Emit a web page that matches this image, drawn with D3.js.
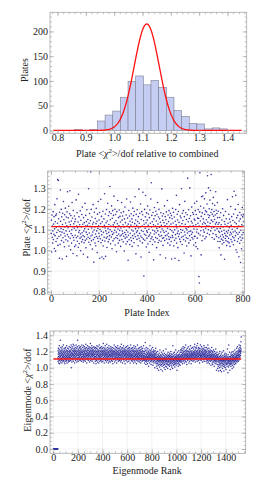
<!DOCTYPE html>
<html><head><meta charset="utf-8">
<script src="https://cdn.jsdelivr.net/npm/d3@7"></script>
<style>
body{margin:0;background:#fff}
svg{display:block}
text{font-family:"Liberation Serif","DejaVu Serif",serif;font-size:10px;fill:#222}
</style>
</head><body><svg id="c" width="266" height="490"></svg>
<script>
// ---------------- DATA ----------------
const histXTicks = [0.8,0.9,1.0,1.1,1.2,1.3,1.4];
const histYTicks = [0,50,100,150,200];
const histBinEdges = [0.86,0.887,0.914,0.941,0.968,0.995,1.022,1.049,1.076,1.103,1.130,1.157,1.184,1.211,1.238,1.265,1.292,1.319,1.346,1.373,1.400];
const histCounts   = [2,0,2,19,31,39,67,99,110,92,101,87,67,40,28,14,13,3,5,3];
const gaussMean = 1.115, gaussSigma = 0.044, gaussPeak = 215;
const gaussRange = [0.785, 1.45];

const plateXTicks = [0,200,400,600,800];
const plateYTicks = [0.8,0.9,1.0,1.1,1.2,1.3];
const plateMean = 1.115;
const plateChi2 = [
1.082,1.146,0.992,1.171,1.063,1.118,1.035,1.094,1.187,1.052,1.127,1.078,1.163,1.009,1.104,1.221,1.071,1.138,0.996,1.169,
1.043,1.112,1.176,1.086,1.249,1.057,1.131,1.342,1.024,1.098,1.338,1.153,1.067,1.116,0.962,1.184,1.091,1.029,1.292,1.141,
1.074,1.106,1.198,1.047,1.162,1.088,0.958,1.125,1.179,1.061,1.101,1.236,1.039,1.148,1.083,1.017,1.172,1.113,1.069,1.204,
1.132,1.051,1.094,1.161,0.971,1.119,1.186,1.076,1.283,1.045,1.109,1.157,1.066,1.213,1.021,1.137,1.092,1.177,1.288,1.058,
1.124,1.003,1.168,1.081,1.142,1.035,1.099,1.231,1.072,1.155,1.114,0.985,1.193,1.062,1.128,1.049,1.107,1.166,1.018,1.139,
1.073,1.151,1.026,1.097,1.244,1.061,1.118,0.974,1.182,1.044,1.109,1.068,1.137,1.015,1.271,1.087,1.162,1.033,1.096,1.124,
1.058,1.191,1.079,0.998,1.145,1.064,1.113,1.041,1.173,1.085,1.209,1.052,1.126,1.071,0.981,1.158,1.093,1.037,1.134,1.066,
1.104,1.227,1.048,1.117,1.169,1.012,1.088,1.139,1.055,1.196,1.076,1.121,0.967,1.149,1.063,1.102,1.298,1.039,1.131,1.084,
1.178,1.057,1.116,1.027,1.143,1.379,1.069,1.198,1.046,1.108,1.161,1.074,1.006,1.127,1.089,1.221,1.052,1.136,0.943,1.098,
1.184,1.062,1.113,1.035,1.154,1.079,1.022,1.129,1.203,1.067,1.094,1.141,0.989,1.175,1.058,1.106,1.236,1.043,1.119,1.083,
1.147,1.068,1.183,0.962,1.101,1.056,1.129,1.247,1.037,1.092,1.164,1.075,0.968,1.138,1.049,1.113,1.189,1.021,1.087,0.959,
1.152,1.063,1.121,1.274,1.045,1.108,1.176,0.971,1.094,1.133,1.059,1.197,1.081,1.014,1.142,1.066,1.228,1.105,1.041,1.168,
1.087,1.125,1.053,1.186,1.071,1.309,1.099,1.148,1.032,1.117,1.178,1.064,1.215,1.091,1.008,1.155,1.077,1.192,1.046,1.123,
1.169,1.084,1.262,1.056,1.134,1.097,1.199,1.026,1.111,1.173,1.062,1.143,1.088,0.993,1.187,1.072,1.128,1.057,1.241,1.103,
1.035,1.158,1.079,1.119,1.195,1.048,1.096,1.164,1.069,1.137,1.019,1.108,1.182,1.074,1.231,1.052,1.146,1.093,1.166,1.081,
1.124,1.041,1.187,1.068,1.113,0.997,1.152,1.086,1.209,1.059,1.134,1.076,1.031,1.171,1.097,1.248,1.064,1.118,1.042,1.156,
1.089,0.952,1.127,1.073,1.193,1.051,1.109,1.166,1.028,1.141,1.083,1.234,1.061,1.122,1.177,1.046,1.098,1.152,1.019,1.136,
1.071,1.204,1.093,1.057,1.168,1.115,1.037,1.188,1.079,1.129,1.259,1.066,1.105,1.147,0.983,1.174,1.087,1.121,1.053,1.196,
1.094,1.139,1.071,1.022,1.163,1.108,1.296,1.058,1.131,1.082,1.179,1.045,1.114,1.224,1.069,0.968,1.149,1.096,1.187,1.062,
1.117,1.036,1.172,1.281,1.091,1.054,1.143,0.876,1.126,1.078,1.198,1.049,1.107,1.162,1.265,1.073,1.133,1.016,1.181,1.094,
1.059,1.146,1.087,1.214,1.031,1.121,1.176,1.068,1.102,0.991,1.158,1.074,1.195,1.043,1.131,1.084,1.248,1.056,1.327,1.113,
1.169,1.065,1.138,1.028,1.097,1.183,1.051,1.124,0.954,1.152,1.079,1.207,1.093,1.041,1.167,1.118,1.062,1.189,1.085,1.142,
1.013,1.106,1.174,1.057,1.231,1.094,1.127,1.038,1.161,1.076,1.198,1.049,1.112,1.153,1.068,0.979,1.136,1.089,1.182,1.044,
1.121,1.072,1.297,1.103,1.166,1.058,1.145,1.024,1.095,1.177,1.061,1.134,1.086,1.215,1.047,1.119,1.163,1.071,0.963,1.148,
1.092,1.186,1.055,1.128,1.074,1.241,1.107,1.035,1.171,1.083,1.139,1.066,1.192,1.053,1.116,1.158,1.025,1.101,1.179,1.062,
1.127,1.043,1.168,0.958,1.095,1.153,1.071,1.203,1.062,1.132,1.087,1.184,1.021,1.114,1.161,1.049,1.099,0.962,1.141,1.076,
1.197,1.058,1.123,1.266,1.035,1.108,1.174,1.082,1.147,1.013,1.093,1.188,1.067,0.951,1.135,1.079,1.221,1.054,1.118,1.166,
1.042,1.101,1.157,1.086,1.298,1.063,1.129,1.028,1.179,1.097,1.144,1.068,1.192,1.052,1.116,0.987,1.163,1.089,1.237,1.074,
1.126,1.045,1.182,1.106,1.061,1.149,1.021,1.098,1.172,1.084,1.349,1.057,1.138,1.112,1.196,1.036,1.091,1.154,1.071,1.302,
1.118,1.049,1.167,1.093,0.973,1.141,1.078,1.209,1.062,1.132,1.087,1.183,1.055,1.119,1.174,1.026,1.103,1.151,1.067,1.228,
1.146,1.068,1.192,1.037,1.124,1.018,1.173,1.089,1.237,1.102,1.059,1.156,1.008,1.131,1.197,1.082,1.154,0.873,1.118,0.842,
1.186,1.375,1.074,1.142,1.213,1.095,0.978,1.164,1.259,1.113,1.047,1.181,1.127,1.263,1.069,1.152,1.098,1.205,1.136,1.088,
1.249,1.174,1.056,1.129,1.191,1.107,1.278,1.065,1.148,1.186,1.119,1.224,1.083,1.361,1.137,1.172,1.099,1.302,1.159,1.118,
1.201,1.076,1.168,1.243,1.131,1.289,1.094,1.183,1.367,1.146,1.108,1.197,1.062,1.174,1.226,1.139,1.081,1.256,1.165,1.112,
1.188,1.054,1.149,1.218,1.097,1.171,1.127,1.283,1.076,1.194,1.135,1.067,1.178,1.105,1.231,1.158,1.043,1.126,1.189,1.092,
1.061,1.134,1.012,1.087,1.159,1.043,1.106,1.068,1.182,0.978,1.124,1.054,1.092,1.147,1.031,1.076,1.201,1.049,1.113,1.064,
1.169,1.038,1.097,1.139,0.957,1.082,1.126,1.057,1.188,1.071,1.046,1.153,1.091,1.023,1.118,1.067,1.245,1.084,1.042,1.131,
1.096,1.058,1.174,1.036,1.109,1.151,1.074,1.019,1.137,1.087,1.212,1.052,1.121,1.079,1.163,1.041,1.102,1.259,1.066,1.144,
1.089,1.027,1.176,1.061,1.286,1.114,1.048,1.136,1.093,1.198,1.071,1.266,1.003,1.128,1.085,1.157,0.991,1.106,1.043,1.169,
1.078,1.222,1.056,1.118,0.969,1.142,1.087,1.034,1.183,1.064,1.152,0.941,1.097,1.049,1.171,1.008,1.124,1.075,1.207,1.059,
1.163,1.118,1.086,1.172,1.139
];

const eigenXTicks = [0,200,400,600,800,1000,1200,1400];
const eigenYTicks = [0.0,0.2,0.4,0.6,0.8,1.0,1.2,1.4];
const eigenMean = 1.108;
const eigenChi2 = [
0,0,0,0,0,0,0,0,0,0,0,0,0,0,0,0,0,0,0,0,0,0,0,0,0,0,0,0,0,0,0,0,0,0,0,0,
1.12,1.21,1.08,1.17,1.24,1.14,1.06,1.19,1.11,1.23,1.16,1.09,1.27,1.13,1.18,1.05,1.22,1.15,1.10,1.20,
1.34,1.14,1.07,1.18,1.25,1.12,1.16,1.21,1.09,1.15,1.19,1.11,1.23,1.06,1.17,1.13,1.26,1.10,1.18,1.14,
1.22,1.08,1.16,1.20,1.12,1.28,1.15,1.09,1.19,1.13,1.17,1.24,1.07,1.14,1.21,1.11,1.18,1.05,1.23,1.16,
1.10,1.19,1.13,1.25,1.15,1.08,1.20,1.12,1.17,1.22,1.09,1.14,1.27,1.11,1.18,1.06,1.21,1.15,1.12,1.19,
1.24,1.10,1.16,1.13,1.20,1.07,1.17,1.23,1.14,1.09,1.18,1.12,1.26,1.15,1.08,1.21,1.13,1.19,1.11,1.16,
1.20,1.13,1.25,1.17,1.09,1.22,1.15,1.28,1.11,1.18,1.00,1.14,1.23,1.19,1.07,1.16,1.26,1.12,1.21,1.15,
1.18,1.10,1.24,1.17,1.13,1.29,1.08,1.20,1.16,1.22,1.14,1.27,1.11,1.19,1.15,1.23,1.06,1.18,1.21,1.13,
1.17,1.25,1.12,1.20,1.09,1.16,1.22,1.14,1.28,1.18,1.11,1.19,1.24,1.15,1.07,1.21,1.17,1.13,1.26,1.10,
1.34,1.16,1.20,1.12,1.23,1.18,1.08,1.15,1.22,1.19,1.13,1.27,1.16,1.10,1.21,1.14,1.25,1.17,1.12,1.19,
1.24,1.09,1.18,1.15,1.22,1.11,1.26,1.16,1.20,1.13,1.17,1.23,1.08,1.19,1.14,1.28,1.12,1.21,1.16,1.10,
1.19,1.14,1.25,1.11,1.18,1.22,1.07,1.16,1.27,1.13,1.20,1.15,1.09,1.23,1.17,1.12,1.26,1.19,1.14,1.21,
1.10,1.18,1.24,1.16,1.08,1.22,1.13,1.29,1.17,1.15,1.20,1.11,1.25,1.18,1.14,1.06,1.21,1.16,1.23,1.12,
1.19,1.27,1.15,1.10,1.22,1.17,1.13,1.24,1.18,1.09,1.16,1.21,1.14,1.26,1.11,1.19,1.15,1.23,1.07,1.20,
1.17,1.12,1.25,1.18,1.30,1.14,1.21,1.09,1.16,1.22,1.13,1.19,1.24,1.11,1.17,1.27,1.15,1.20,1.08,1.18,
1.23,1.14,1.16,1.21,1.10,1.25,1.17,1.12,1.19,1.15,1.22,1.06,1.18,1.26,1.13,1.20,1.16,1.11,1.24,1.14,
1.17,1.12,1.21,1.08,1.19,1.25,1.14,1.10,1.22,1.16,1.05,1.18,1.24,1.13,1.20,1.09,1.15,1.27,1.11,1.19,
1.16,1.23,1.07,1.17,1.21,1.12,1.26,1.14,1.18,1.10,1.20,1.15,1.06,1.22,1.13,1.19,1.28,1.16,1.11,1.24,
1.14,1.08,1.18,1.21,1.15,1.12,1.25,1.17,1.09,1.20,1.13,1.23,1.16,1.10,1.19,1.26,1.14,1.07,1.21,1.17,
1.11,1.18,1.24,1.15,1.20,1.08,1.16,1.22,1.13,1.30,1.19,1.12,1.17,1.25,1.10,1.21,1.15,1.06,1.18,1.23,
1.14,1.20,1.11,1.16,1.27,1.13,1.19,1.09,1.22,1.17,1.15,1.24,1.12,1.18,1.07,1.21,1.16,1.29,1.14,1.10,
1.19,1.13,1.22,1.17,1.09,1.25,1.15,1.11,1.20,1.18,1.06,1.23,1.14,1.19,1.12,1.27,1.16,1.08,1.21,1.15,
1.17,1.10,1.24,1.13,1.19,1.22,1.07,1.16,1.20,1.14,1.26,1.11,1.18,1.15,1.23,1.09,1.17,1.21,1.12,1.19,
1.14,1.25,1.08,1.16,1.22,1.13,1.18,1.05,1.20,1.15,1.11,1.19,1.24,1.17,1.10,1.21,1.14,1.28,1.16,1.12,
1.20,1.07,1.18,1.23,1.15,1.11,1.19,1.26,1.13,1.17,1.22,1.09,1.16,1.14,1.21,1.18,1.12,1.25,1.06,1.19,
1.15,1.23,1.11,1.17,1.20,1.13,1.27,1.16,1.10,1.18,1.24,1.14,1.08,1.21,1.16,1.19,1.12,1.22,1.15,1.09,
1.18,1.13,1.24,1.16,1.10,1.21,1.15,1.26,1.12,1.19,1.07,1.17,1.22,1.14,1.20,1.09,1.29,1.16,1.13,1.23,
1.18,1.11,1.25,1.15,1.19,1.06,1.21,1.17,1.12,1.24,1.14,1.20,1.10,1.18,1.27,1.13,1.16,1.22,1.08,1.19,
1.15,1.23,1.11,1.17,1.21,1.14,1.05,1.20,1.16,1.25,1.12,1.18,1.22,1.09,1.15,1.19,1.13,1.26,1.17,1.10,
1.21,1.14,1.18,1.07,1.23,1.16,1.12,1.20,1.27,1.15,1.11,1.19,1.24,1.13,1.17,1.08,1.21,1.15,1.18,1.22,
1.14,1.10,1.25,1.16,1.19,1.12,1.23,1.06,1.17,1.20,1.13,1.28,1.15,1.11,1.18,1.21,1.14,1.09,1.24,1.16,
1.12,1.19,1.15,1.23,1.08,1.17,1.21,1.13,1.10,1.25,1.16,1.11,1.20,1.14,1.06,1.18,1.22,1.12,1.27,1.15,
1.09,1.19,1.14,1.24,1.17,1.11,1.21,1.07,1.16,1.20,1.13,1.26,1.15,1.10,1.18,1.23,1.12,1.17,1.05,1.19,
1.14,1.22,1.09,1.16,1.20,1.13,1.28,1.15,1.11,1.18,1.21,1.08,1.14,1.24,1.17,1.12,1.19,1.10,1.16,1.23,
1.13,1.18,1.07,1.21,1.15,1.11,1.25,1.14,1.19,1.09,1.16,1.22,1.12,1.17,1.06,1.20,1.14,1.26,1.10,1.18,
1.15,1.11,1.23,1.13,1.19,1.08,1.16,1.21,1.12,1.24,1.17,1.09,1.14,1.20,1.15,1.11,1.27,1.13,1.18,1.10,
1.15,1.09,1.20,1.12,1.06,1.18,1.14,1.23,1.10,1.16,1.31,1.08,1.13,1.21,1.11,1.04,1.17,1.14,1.25,1.09,
1.15,1.19,1.07,1.12,1.22,1.16,1.10,1.13,1.05,1.18,1.14,1.24,1.11,1.08,1.17,1.20,1.13,1.02,1.15,1.19,
1.09,1.14,1.22,1.12,1.16,1.06,1.18,1.11,1.27,1.13,1.10,1.17,1.15,1.08,1.21,1.12,1.19,1.04,1.14,1.16,
1.23,1.11,1.09,1.18,1.13,1.07,1.20,1.15,1.12,1.25,1.10,1.16,1.03,1.14,1.19,1.11,1.17,1.08,1.22,1.13,
1.06,1.15,1.20,1.12,1.09,1.18,1.14,1.00,1.16,1.11,1.21,1.13,1.07,1.17,1.10,1.24,1.12,1.15,1.05,1.19,
1.08,1.13,1.02,1.11,1.17,1.06,1.10,0.99,1.14,1.09,1.20,1.05,1.12,1.07,1.16,1.03,1.10,1.13,0.97,1.08,
1.15,1.11,1.04,1.18,1.09,1.12,1.01,1.14,1.07,1.22,1.10,1.06,1.13,1.03,1.16,1.09,1.11,0.98,1.15,1.08,
1.12,1.04,1.19,1.10,1.07,1.14,1.02,1.11,1.17,1.06,0.96,1.09,1.13,1.05,1.16,1.10,1.08,1.21,1.03,1.12,
1.07,1.15,1.00,1.11,1.09,1.18,1.04,1.13,1.06,1.10,1.14,0.98,1.12,1.08,1.16,1.02,1.10,1.07,1.23,1.11,
1.05,1.13,1.09,1.01,1.15,1.08,1.12,1.04,1.17,1.10,1.06,1.14,0.99,1.11,1.08,1.19,1.03,1.12,1.07,1.15,
1.09,1.13,1.04,1.11,1.16,1.07,1.02,1.14,1.10,1.18,1.05,1.12,1.08,0.98,1.15,1.10,1.06,1.13,1.20,1.09,
1.03,1.11,1.17,1.07,1.14,1.01,1.10,1.12,1.05,1.16,1.08,1.13,0.99,1.11,1.27,1.06,1.14,1.09,1.03,1.18,
1.10,1.07,1.15,1.12,1.04,1.09,1.19,1.11,1.06,1.13,1.01,1.16,1.08,1.12,1.10,1.05,1.14,1.22,1.07,1.11,
1.13,1.03,1.17,1.09,1.12,1.06,1.15,1.10,0.97,1.14,1.08,1.19,1.11,1.05,1.13,1.09,1.16,1.02,1.12,1.07,
1.15,1.10,1.21,1.06,1.14,1.11,1.04,1.17,1.09,1.13,1.08,1.16,1.12,1.03,1.19,1.10,1.14,1.07,1.22,1.11,
1.15,1.09,1.19,1.13,1.22,1.07,1.16,1.11,1.24,1.14,1.10,1.18,1.05,1.15,1.21,1.12,1.17,1.08,1.26,1.13,
1.19,1.11,1.16,1.23,1.09,1.14,1.20,1.06,1.17,1.12,1.25,1.15,1.10,1.18,1.13,1.21,1.08,1.16,1.28,1.11,
1.14,1.19,1.07,1.22,1.15,1.12,1.17,1.04,1.20,1.13,1.16,1.24,1.10,1.18,1.14,1.09,1.21,1.15,1.12,1.26,
1.11,1.17,1.13,1.20,1.06,1.15,1.19,1.12,1.23,1.14,1.08,1.18,1.16,1.11,1.22,1.13,1.27,1.10,1.17,1.15,
1.20,1.12,1.05,1.19,1.14,1.24,1.16,1.09,1.18,1.13,1.21,1.15,1.11,1.17,1.25,1.12,1.16,1.08,1.19,1.14,
1.18,1.12,1.23,1.15,1.20,1.09,1.17,1.26,1.13,1.19,1.16,1.29,1.11,1.21,1.14,1.18,1.07,1.22,1.16,1.13,
1.25,1.15,1.19,1.10,1.17,1.24,1.12,1.20,1.15,1.27,1.14,1.18,1.08,1.21,1.16,1.30,1.13,1.19,1.11,1.23,
1.17,1.14,1.25,1.09,1.18,1.15,1.22,1.12,1.20,1.16,1.06,1.19,1.24,1.13,1.17,1.21,1.10,1.15,1.28,1.14,
1.18,1.12,1.23,1.16,1.09,1.20,1.15,1.26,1.13,1.19,1.11,1.17,1.22,1.14,1.18,1.07,1.21,1.16,1.24,1.12,
1.19,1.15,1.10,1.23,1.17,1.13,1.27,1.16,1.20,1.08,1.14,1.22,1.18,1.11,1.16,1.25,1.13,1.19,1.15,1.21,
1.17,1.11,1.22,1.14,1.08,1.19,1.13,1.25,1.10,1.16,1.20,1.12,1.06,1.18,1.15,1.23,1.09,1.14,1.28,1.11,
1.17,1.13,1.21,1.07,1.15,1.19,1.10,1.24,1.12,1.16,1.05,1.18,1.13,1.20,1.09,1.15,1.22,1.11,1.14,1.08,
1.19,1.12,1.16,1.03,1.17,1.13,1.21,1.10,1.15,1.25,1.09,1.14,1.18,1.06,1.12,1.20,1.11,1.16,1.04,1.13,
1.19,1.08,1.15,1.11,1.22,1.07,1.14,1.17,1.10,1.13,1.02,1.16,1.09,1.20,1.12,1.06,1.15,1.11,1.18,1.08,
1.14,1.10,1.23,1.05,1.13,1.17,1.09,1.12,0.97,1.15,1.11,1.07,1.19,1.13,1.04,1.16,1.10,1.14,0.99,1.12,
1.08,1.13,1.02,1.10,1.16,0.96,1.07,1.12,1.04,1.18,1.09,1.00,1.14,1.06,1.11,1.20,1.03,1.08,1.13,0.97,
1.10,1.15,1.05,1.09,1.01,1.12,1.07,1.17,0.95,1.11,1.06,1.14,1.09,1.03,1.19,1.08,1.12,0.99,1.10,1.05,
1.15,1.07,1.02,1.13,1.09,1.21,1.04,1.11,0.96,1.08,1.12,1.06,1.16,1.01,1.10,1.14,1.03,1.09,1.18,1.07,
1.00,1.13,1.08,1.11,1.05,1.15,0.98,1.10,1.06,1.12,1.17,1.04,1.09,1.14,1.02,1.11,1.07,1.23,1.05,1.10,
1.13,0.94,1.08,1.16,1.06,1.12,1.01,1.09,1.28,1.07,1.11,1.03,1.14,1.08,1.19,1.05,1.10,0.97,1.13,1.06,
1.09,1.14,1.04,1.11,1.07,1.17,1.02,1.12,1.08,1.15,1.05,1.10,1.19,1.06,1.13,0.99,1.09,1.16,1.11,1.03,
1.14,1.08,1.12,1.20,1.06,1.10,1.15,1.01,1.13,1.09,1.18,1.07,1.12,1.04,1.16,1.11,1.08,1.22,1.10,1.14,
1.06,1.13,1.17,1.09,1.12,1.05,1.19,1.11,1.15,1.08,1.14,1.24,1.10,1.17,1.12,1.20,1.07,1.15,1.13,1.26,
1.11,1.18,1.09,1.16,1.21,1.13,1.08,1.19,1.15,1.23,1.12,1.17,1.28,1.14,1.20,1.10,1.22,1.16,1.25,1.13,
1.19,1.21,1.15,1.27,1.18,1.24,1.20,1.32,1.22,1.38
];

// ---------------- DRAWING ----------------
const svg = d3.select("#c");
svg.append("rect").attr("width",266).attr("height",490).attr("fill","#fff");

const FRAME = "#a8a8a8", GRID = "#ececec", RED = "#ff1010", PT = "#34349f";

function panel(o) {
  const g = svg.append("g");
  const [L,R] = o.fx, [T,B] = o.fy;
  if (o.grid) {
    g.append("g").selectAll("line").data(o.xTicks).join("line")
      .attr("x1",d=>o.x(d)).attr("x2",d=>o.x(d)).attr("y1",T).attr("y2",B)
      .attr("stroke",GRID).attr("stroke-width",0.7);
    g.append("g").selectAll("line").data(o.yTicks).join("line")
      .attr("y1",d=>o.y(d)).attr("y2",d=>o.y(d)).attr("x1",L).attr("x2",R)
      .attr("stroke",GRID).attr("stroke-width",0.7);
  }
  const data = g.append("g");
  const fr = g.append("g");
  fr.append("rect").attr("x",L).attr("y",T).attr("width",R-L).attr("height",B-T)
    .attr("fill","none").attr("stroke",FRAME).attr("stroke-width",0.8);
  const style = a => { a.select(".domain").remove(); a.selectAll("line").attr("stroke",FRAME).attr("stroke-width",0.7); a.selectAll("text").attr("fill","#222").attr("font-size","10px").attr("font-family",'"Liberation Serif",serif'); };
  // major
  fr.append("g").attr("transform",`translate(0,${B})`)
    .call(d3.axisBottom(o.x).tickValues(o.xTicks).tickSizeInner(-4).tickSizeOuter(0).tickPadding(0.5).tickFormat(o.xFmt)).call(style);
  fr.append("g").attr("transform",`translate(0,${T})`)
    .call(d3.axisTop(o.x).tickValues(o.xTicks).tickSizeInner(-4).tickSizeOuter(0).tickFormat("")).call(style);
  fr.append("g").attr("transform",`translate(${L},0)`)
    .call(d3.axisLeft(o.y).tickValues(o.yTicks).tickSizeInner(-4).tickSizeOuter(0).tickPadding(2).tickFormat(o.yFmt)).call(style);
  fr.append("g").attr("transform",`translate(${R},0)`)
    .call(d3.axisRight(o.y).tickValues(o.yTicks).tickSizeInner(-4).tickSizeOuter(0).tickFormat("")).call(style);
  // minor
  const xm = o.xMinor.filter(v=>o.x(v)>L+0.5 && o.x(v)<R-0.5);
  const ym = o.yMinor.filter(v=>o.y(v)>T+0.5 && o.y(v)<B-0.5);
  fr.append("g").attr("transform",`translate(0,${B})`).call(d3.axisBottom(o.x).tickValues(xm).tickSizeInner(-2).tickSizeOuter(0).tickFormat("")).call(style);
  fr.append("g").attr("transform",`translate(0,${T})`).call(d3.axisTop(o.x).tickValues(xm).tickSizeInner(-2).tickSizeOuter(0).tickFormat("")).call(style);
  fr.append("g").attr("transform",`translate(${L},0)`).call(d3.axisLeft(o.y).tickValues(ym).tickSizeInner(-2).tickSizeOuter(0).tickFormat("")).call(style);
  fr.append("g").attr("transform",`translate(${R},0)`).call(d3.axisRight(o.y).tickValues(ym).tickSizeInner(-2).tickSizeOuter(0).tickFormat("")).call(style);
  return data;
}

function chiLabel(t, pre, post) {
  t.append("tspan").text(pre + "<");
  t.append("tspan").attr("font-style","italic").text("\u03C7");
  t.append("tspan").attr("font-size","7px").attr("dy",-4).text("2");
  t.append("tspan").attr("dy",4).text(">" + post);
}

// ---- Panel 1: histogram ----
{
  const x = d3.scaleLinear([0.8,1.4],[57.5,227.5]);
  const y = d3.scaleLinear([0,200],[130.4,31.4]);
  const d = panel({x,y,fx:[50,246.7],fy:[12.3,133.3],xTicks:histXTicks,yTicks:histYTicks,
    xMinor:d3.range(0.76,1.48,0.02),yMinor:d3.range(0,240,10),xFmt:d3.format(".1f"),yFmt:d3.format("d"),grid:false});
  const bins = histCounts.map((c,i)=>({x0:histBinEdges[i],x1:histBinEdges[i+1],c})).filter(b=>b.c>0);
  d.selectAll("rect").data(bins).join("rect")
    .attr("x",b=>x(b.x0)).attr("width",b=>x(b.x1)-x(b.x0))
    .attr("y",b=>y(b.c)).attr("height",b=>y(0)-y(b.c))
    .attr("fill","#c6cdf3").attr("stroke","#7d7f92").attr("stroke-width",0.6);
  const xs = d3.range(gaussRange[0], gaussRange[1]+1e-9, (gaussRange[1]-gaussRange[0])/300);
  d.append("path").datum(xs)
    .attr("d",d3.line().x(v=>x(v)).y(v=>y(gaussPeak*Math.exp(-0.5*((v-gaussMean)/gaussSigma)**2))))
    .attr("fill","none").attr("stroke",RED).attr("stroke-width",1.3);
  svg.append("text").attr("transform","translate(28.3,70) rotate(-90)").attr("text-anchor","middle").text("Plates");
  chiLabel(svg.append("text").attr("x",147.2).attr("y",156.5).attr("text-anchor","middle"),"Plate ","/dof relative to combined");
}

// ---- Panel 2: plate scatter ----
{
  const x = d3.scaleLinear([0,800],[51,242.5]);
  const y = d3.scaleLinear([0.8,1.3],[291.7,188.3]);
  const d = panel({x,y,fx:[47.7,244.5],fy:[171,294.3],xTicks:plateXTicks,yTicks:plateYTicks,
    xMinor:d3.range(0,850,50),yMinor:d3.range(0.78,1.40,0.02),xFmt:d3.format("d"),yFmt:d3.format(".1f"),grid:true});
  d.selectAll("circle").data(plateChi2).join("circle")
    .attr("cx",(v,i)=>x(i+1)).attr("cy",v=>y(v)).attr("r",0.8).attr("fill",PT);
  d.append("line").attr("x1",x(1)).attr("x2",x(plateChi2.length)).attr("y1",y(plateMean)).attr("y2",y(plateMean))
    .attr("stroke",RED).attr("stroke-width",1.3);
  chiLabel(svg.append("text").attr("transform","translate(29.5,227.5) rotate(-90)").attr("text-anchor","middle"),"Plate ","/dof");
  svg.append("text").attr("x",147).attr("y",316).attr("text-anchor","middle").text("Plate Index");
}

// ---- Panel 3: eigenmode scatter ----
{
  const x = d3.scaleLinear([0,1400],[53.3,225.7]);
  const y = d3.scaleLinear([0,1.4],[449,335.3]);
  const d = panel({x,y,fx:[50,245.7],fy:[331,453.3],xTicks:eigenXTicks,yTicks:eigenYTicks,
    xMinor:d3.range(-50,1600,50),yMinor:d3.range(0,1.5,0.05),xFmt:d3.format("d"),yFmt:d3.format(".1f"),grid:true});
  d.selectAll("circle").data(eigenChi2).join("circle")
    .attr("cx",(v,i)=>x(i+1)).attr("cy",v=>y(v)).attr("r",0.75).attr("fill",PT);
  d.append("line").attr("x1",x(1)).attr("x2",x(eigenChi2.length)).attr("y1",y(eigenMean)).attr("y2",y(eigenMean))
    .attr("stroke",RED).attr("stroke-width",1.3);
  chiLabel(svg.append("text").attr("transform","translate(30.5,390) rotate(-90)").attr("text-anchor","middle"),"Eigenmode ","/dof");
  svg.append("text").attr("x",147.2).attr("y",474.3).attr("text-anchor","middle").text("Eigenmode Rank");
}
</script>
</body></html>
